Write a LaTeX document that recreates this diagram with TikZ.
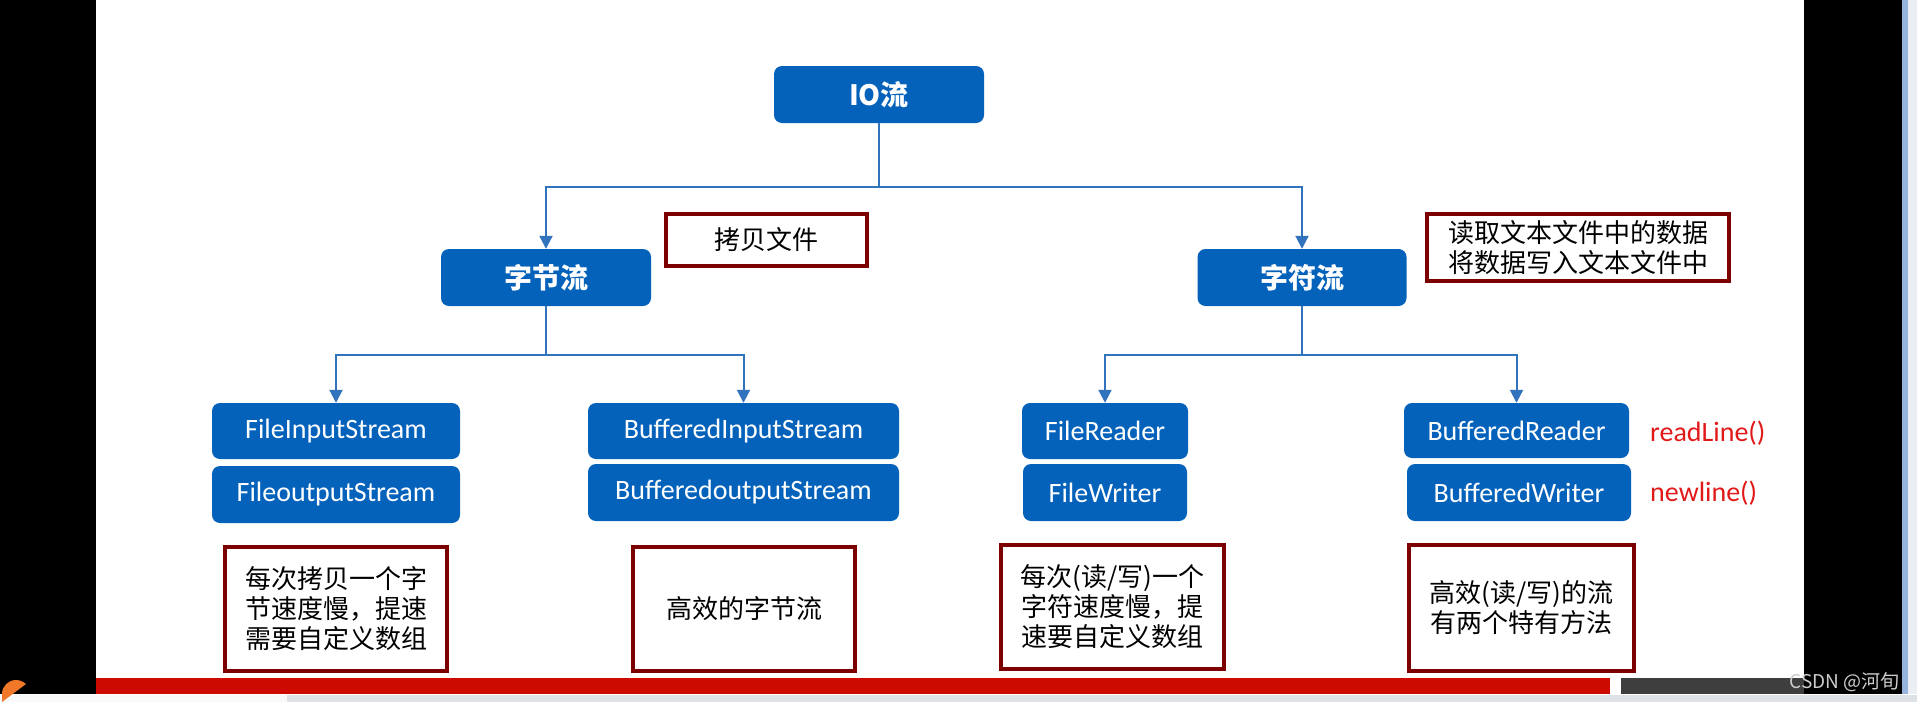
\documentclass[tikz,border=0pt]{standalone}
\usepackage{fontspec}
\setmainfont{Carlito}
\newfontfamily\cjk{Noto Sans CJK SC}
\usetikzlibrary{arrows.meta,shadows}
\definecolor{boxblue}{RGB}{4,98,187}
\definecolor{lineblue}{RGB}{50,115,190}
\definecolor{framered}{RGB}{125,0,0}
\definecolor{barred}{RGB}{204,10,0}
\definecolor{methodred}{RGB}{225,25,25}
\definecolor{bargray}{RGB}{62,62,62}
\definecolor{taskgray}{RGB}{222,226,231}
\definecolor{stripblue}{RGB}{150,180,220}
\definecolor{stripgray}{RGB}{235,238,242}
\definecolor{wmgray}{RGB}{205,205,205}
\definecolor{taskorange}{RGB}{240,120,40}
\begin{document}
\begin{tikzpicture}[x=1pt,y=-1pt,
  bluebox/.style={fill=boxblue, rounded corners=8pt, inner sep=0pt, text=white,
    font=\fontsize{28}{32}\selectfont, minimum height=56pt},
  cjktitle/.style={font=\cjk\bfseries\fontsize{28}{32}\selectfont},
  notebox/.style={draw=framered, line width=4pt, fill=white, inner sep=0pt,
    font=\cjk\fontsize{26}{30}\selectfont, align=center,
    drop shadow={shadow xshift=2pt,shadow yshift=-2pt,opacity=0.3,fill=gray}},
  conn/.style={draw=lineblue, line width=2pt},
  arr/.style={conn,-{Triangle[width=13pt,length=13pt]}},
  method/.style={text=methodred, font=\fontsize{28}{32}\selectfont, anchor=west, inner sep=0pt}
]
\useasboundingbox (0,0) rectangle (1917,702);
% screen background
\fill[white] (0,0) rectangle (1917,702);
\fill[black] (0,0) rectangle (96,694);
\fill[black] (1804,0) rectangle (1902,694);
\fill[stripblue] (1902,0) rectangle (1908,694);
\fill[stripgray] (1908,0) rectangle (1917,694);
\fill[barred] (96,678) rectangle (1610,694);
\fill[bargray] (1621,678) rectangle (1804,694);
\fill[taskgray] (0,695) rectangle (1917,702);
\fill[white!95!gray] (0,695) rectangle (287,702);
\fill[taskorange] (2,702) -- (2,694) arc[start angle=180,end angle=45,radius=14pt] -- cycle;

% top level
\node[bluebox,cjktitle,minimum width=210pt,minimum height=57pt] (io) at (879,94.5) {IO流};
\node[bluebox,cjktitle,minimum width=210pt,minimum height=57pt] (zj) at (546,277.5) {字节流};
\node[bluebox,cjktitle,minimum width=209pt,minimum height=57pt] (zf) at (1302,277.5) {字符流};

% notes at second level
\node[notebox,minimum width=201pt,minimum height=52pt] (copy) at (766.5,240) {拷贝文件};
\node[notebox,minimum width=302pt,minimum height=67pt] (rw) at (1578,247.5) {读取文本文件中的数据\\将数据写入文本文件中};

% third level
\node[bluebox,minimum width=248pt] (fis) at (336,431) {FileInputStream};
\node[bluebox,minimum width=248pt,minimum height=57pt] (fos) at (336,494.5) {FileoutputStream};
\node[bluebox,minimum width=311pt] (bis) at (743.5,431) {BufferedInputStream};
\node[bluebox,minimum width=311pt,minimum height=57pt] (bos) at (743.5,492.5) {BufferedoutputStream};
\node[bluebox,minimum width=166pt] (fr) at (1105,431) {FileReader};
\node[bluebox,minimum width=164pt,minimum height=57pt] (fw) at (1105,492.5) {FileWriter};
\node[bluebox,minimum width=225pt,minimum height=55pt] (br) at (1516.5,430.5) {BufferedReader};
\node[bluebox,minimum width=224pt,minimum height=57pt] (bw) at (1519,492.5) {BufferedWriter};

\node[method] (rl) at (1650,433) {readLine()};
\node[method] (nl) at (1650,493) {newline()};

% bottom notes
\node[notebox,minimum width=222pt,minimum height=124pt] (n1) at (336,609) {每次拷贝一个字\\节速度慢，提速\\需要自定义数组};
\node[notebox,minimum width=222pt,minimum height=124pt] (n2) at (744,609) {高效的字节流};
\node[notebox,minimum width=223pt,minimum height=124pt] (n3) at (1112.5,607) {每次(读/写)一个\\字符速度慢，提\\速要自定义数组};
\node[notebox,minimum width=225pt,minimum height=126pt] (n4) at (1521.5,608) {高效(读/写)的流\\有两个特有方法};

% connectors
\coordinate (j1) at (879,187);
\coordinate (j2) at (546,355);
\coordinate (j3) at (1302,355);
\draw[conn] (io.south) -- (j1);
\draw[arr] (j1) -| (zj.north);
\draw[arr] (j1) -| (zf.north);
\draw[conn] (zj.south) -- (j2);
\draw[arr] (j2) -| (fis.north);
\draw[arr] (j2) -| (bis.north);
\draw[conn] (zf.south) -- (j3);
\draw[arr] (j3) -| (fr.north);
\draw[arr] (j3) -| (br.north);

% watermark
\node[text=wmgray, font=\cjk\fontsize{19}{22}\selectfont, anchor=east, inner sep=0pt] (wm) at (1900,682) {CSDN @河旬};
\end{tikzpicture}
\end{document}
